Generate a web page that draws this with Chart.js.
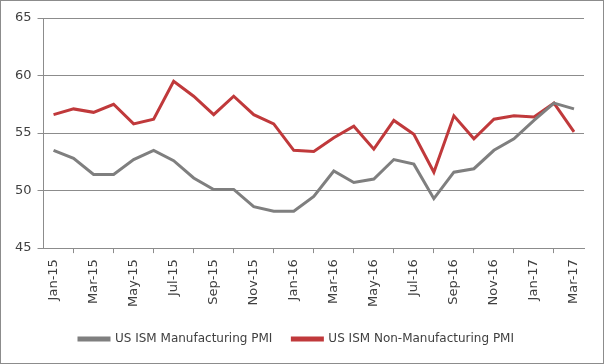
<!DOCTYPE html>
<html>
<head>
<meta charset="utf-8">
<script src="https://cdn.jsdelivr.net/npm/chart.js@4.4.1/dist/chart.umd.min.js"></script>
<style>
  html, body { margin: 0; padding: 0; background: #fff; }
  #wrap { width: 602px; height: 362px; border: 1px solid #8c8c8c; position: relative; }
</style>
</head>
<body>
<div id="wrap"><canvas id="chart" width="602" height="362"></canvas></div>
<script>
const months = ['Jan-15','Feb-15','Mar-15','Apr-15','May-15','Jun-15','Jul-15','Aug-15','Sep-15','Oct-15','Nov-15','Dec-15',
  'Jan-16','Feb-16','Mar-16','Apr-16','May-16','Jun-16','Jul-16','Aug-16','Sep-16','Oct-16','Nov-16','Dec-16',
  'Jan-17','Feb-17','Mar-17'];
const manufacturing = [53.5, 52.8, 51.4, 51.4, 52.7, 53.5, 52.6, 51.1, 50.1, 50.1, 48.6, 48.2,
  48.2, 49.5, 51.7, 50.7, 51.0, 52.7, 52.3, 49.3, 51.6, 51.9, 53.5, 54.5,
  56.1, 57.6, 57.1];
const nonManufacturing = [56.6, 57.1, 56.8, 57.5, 55.8, 56.2, 59.5, 58.2, 56.6, 58.2, 56.6, 55.8,
  53.5, 53.4, 54.6, 55.6, 53.6, 56.1, 54.9, 51.6, 56.5, 54.5, 56.2, 56.5,
  56.4, 57.6, 55.1];

const fontFamily = '"DejaVu Sans", sans-serif';
const textColor = '#404040';
const gridColor = '#8c8c8c';

new Chart(document.getElementById('chart'), {
    type: 'line',
    data: {
        labels: months,
        datasets: [{
            label: 'US ISM Manufacturing PMI',
            data: manufacturing,
            borderColor: '#7f7f7f',
            backgroundColor: '#7f7f7f',
            borderWidth: 3,
            pointRadius: 0,
            tension: 0
        }, {
            label: 'US ISM Non-Manufacturing PMI',
            data: nonManufacturing,
            borderColor: '#c0393b',
            backgroundColor: '#c0393b',
            borderWidth: 3,
            pointRadius: 0,
            tension: 0
        }]
    },
    options: {
        responsive: false,
        animation: false,
        layout: { padding: { top: 17, right: 19, left: 8, bottom: 8 } },
        plugins: {
            legend: {
                position: 'bottom',
                labels: {
                    color: textColor,
                    font: { family: fontFamily, size: 12 },
                    boxWidth: 30,
                    boxHeight: 2,
                    padding: 20
                }
            },
            tooltip: { enabled: false }
        },
        scales: {
            x: {
                offset: true,
                grid: {
                    offset: true,
                    drawOnChartArea: false,
                    color: gridColor,
                    tickLength: 5
                },
                border: { color: gridColor },
                ticks: {
                    autoSkip: false,
                    maxRotation: 90,
                    minRotation: 90,
                    padding: 6,
                    color: textColor,
                    font: { family: fontFamily, size: 13 },
                    callback: function (value, index) {
                        return index % 2 === 0 ? this.getLabelForValue(value) : null;
                    }
                }
            },
            y: {
                min: 45,
                max: 65,
                grid: { color: gridColor, tickLength: 6 },
                border: { color: gridColor },
                ticks: {
                    stepSize: 5,
                    color: textColor,
                    padding: 6,
                    font: { family: fontFamily, size: 13 }
                }
            }
        }
    }
});
</script>
</body>
</html>
